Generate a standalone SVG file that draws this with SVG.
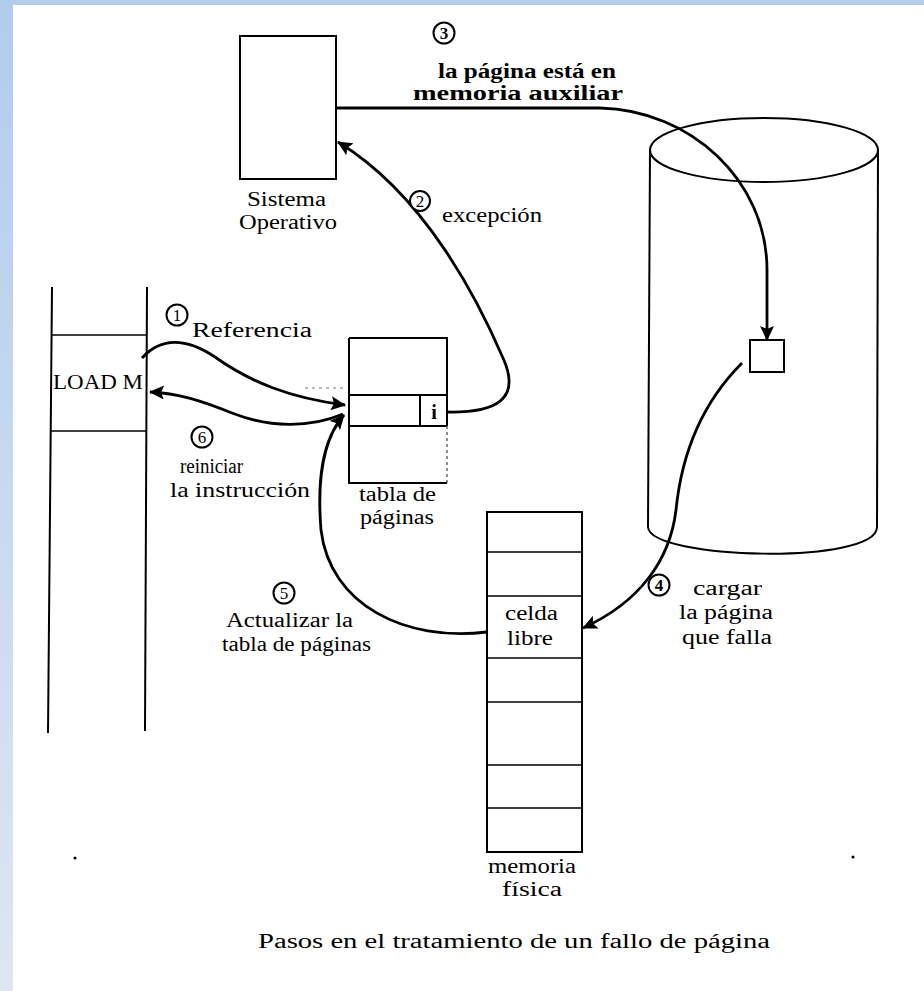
<svg xmlns="http://www.w3.org/2000/svg" width="924" height="991" viewBox="0 0 924 991">
<defs>
<linearGradient id="band" x1="0" y1="0" x2="0" y2="1">
<stop offset="0" stop-color="#b2cced"/>
<stop offset="1" stop-color="#dfe5f2"/>
</linearGradient>
<marker id="ah" markerUnits="userSpaceOnUse" markerWidth="16" markerHeight="14" refX="14" refY="7" orient="auto">
<path d="M0,0 L15,7 L0,14 L3,7 Z" fill="#000"/>
</marker>
<style>
.box{fill:#fff;stroke:#000;stroke-width:2}
.ln{fill:none;stroke:#000;stroke-width:2}
.thin{fill:none;stroke:#000;stroke-width:1.7}
.arr{fill:none;stroke:#000;stroke-width:2.8}
.t{font-family:"Liberation Serif","DejaVu Serif",serif;fill:#000;font-size:20px}
.c{fill:#fff;stroke:#000;stroke-width:2}
.n{font-family:"Liberation Serif","DejaVu Serif",serif;font-size:17px;fill:#000;text-anchor:middle}
</style>
</defs>
<rect x="0" y="0" width="924" height="991" fill="#fff"/>
<rect x="0" y="0" width="924" height="5" fill="#b2cced"/>
<rect x="0" y="0" width="13" height="991" fill="url(#band)"/>

<g id="proceso">
<path class="ln" d="M52,287 L48,733"/>
<path class="ln" d="M147,287 L145,731"/>
<path class="thin" d="M51,335 L147,335 M50,431 L146,431"/>
<text class="t" x="53" y="389" textLength="90" lengthAdjust="spacingAndGlyphs">LOAD M</text>
</g>

<g id="sistema-operativo">
<rect class="box" x="240" y="36" width="96" height="143"/>
<text class="t" x="247" y="206" textLength="79" lengthAdjust="spacingAndGlyphs">Sistema</text>
<text class="t" x="239" y="229" textLength="98" lengthAdjust="spacingAndGlyphs">Operativo</text>
</g>

<g id="tabla-paginas">
<path class="ln" d="M349,338 L447,338 L447,426 M349,338 L349,483 L447,483 M349,395 L447,395 M349,426 L447,426 M420,395 L420,426"/>
<path d="M447,426 L447,483" fill="none" stroke="#444" stroke-width="1.2" stroke-dasharray="3,3"/>
<path d="M305,388 L345,388" fill="none" stroke="#777" stroke-width="1" stroke-dasharray="3,4"/>
<text class="t" x="434" y="419" text-anchor="middle" font-weight="bold">i</text>
<text class="t" x="359" y="501" textLength="77" lengthAdjust="spacingAndGlyphs">tabla de</text>
<text class="t" x="360" y="524" textLength="74" lengthAdjust="spacingAndGlyphs">páginas</text>
</g>

<g id="memoria-auxiliar">
<path class="ln" d="M650,150 L648,527"/>
<path class="ln" d="M878,150 L877,527"/>
<ellipse class="ln" cx="764" cy="150" rx="114" ry="32"/>
<path class="ln" d="M648,527 C650,560 877,565 877,527"/>
<rect class="box" x="750" y="340" width="34" height="32" stroke-width="1.8"/>
</g>

<g id="memoria-fisica">
<rect class="box" x="487" y="512" width="95" height="340"/>
<path class="thin" d="M487,552 L582,552 M487,596 L582,596 M487,658 L582,658 M487,702 L582,702 M487,765 L582,765 M487,808 L582,808"/>
<text class="t" x="505" y="620" textLength="53" lengthAdjust="spacingAndGlyphs">celda</text>
<text class="t" x="507" y="645" textLength="46" lengthAdjust="spacingAndGlyphs">libre</text>
<text class="t" x="488" y="873" font-size="19" textLength="88" lengthAdjust="spacingAndGlyphs">memoria</text>
<text class="t" x="502" y="896" font-size="19" textLength="60" lengthAdjust="spacingAndGlyphs">física</text>
</g>

<g id="conectores">
<path class="arr" d="M337,108 L600,108 C690,110 767,180 767,270 L767,340" marker-end="url(#ah)"/>
<path class="arr" d="M447,412 C495,413 522,400 503,358 C478,300 425,195 338,142" marker-end="url(#ah)"/>
<path class="arr" d="M142,358 C160,338 185,337 215,357 C250,382 290,398 345,405" marker-end="url(#ah)"/>
<path class="arr" d="M343,414 C310,428 270,428 232,413 C202,401 178,393 150,392" marker-end="url(#ah)"/>
<path class="arr" d="M742,363 C705,400 682,450 676,510 C670,560 640,602 583,628" marker-end="url(#ah)"/>
<path class="arr" d="M487,632 C405,642 330,605 321,530 C317,480 322,440 344,415" marker-end="url(#ah)"/>
</g>

<g id="etiquetas">
<circle class="c" cx="444" cy="33" r="10.5"/><text class="n" x="444" y="39" font-weight="bold">3</text>
<text class="t" x="438" y="78" font-weight="bold" textLength="178" lengthAdjust="spacingAndGlyphs">la página está en</text>
<text class="t" x="413" y="100" font-weight="bold" textLength="210" lengthAdjust="spacingAndGlyphs">memoria auxiliar</text>
<circle class="c" cx="420" cy="201" r="10"/><text class="n" x="420" y="207">2</text>
<text class="t" x="442" y="222" font-size="21" textLength="100" lengthAdjust="spacingAndGlyphs">excepción</text>
<circle class="c" cx="177" cy="315" r="10.5"/><text class="n" x="177" y="321">1</text>
<text class="t" x="192" y="337" font-size="22" textLength="120" lengthAdjust="spacingAndGlyphs">Referencia</text>
<circle class="c" cx="202" cy="437" r="10.5"/><text class="n" x="202" y="443">6</text>
<text class="t" x="180" y="473" textLength="63" lengthAdjust="spacingAndGlyphs">reiniciar</text>
<text class="t" x="170" y="497" textLength="140" lengthAdjust="spacingAndGlyphs">la instrucción</text>
<circle class="c" cx="284" cy="593" r="10.5"/><text class="n" x="284" y="599">5</text>
<text class="t" x="226" y="627" textLength="127" lengthAdjust="spacingAndGlyphs">Actualizar la</text>
<text class="t" x="222" y="651" textLength="149" lengthAdjust="spacingAndGlyphs">tabla de páginas</text>
<circle class="c" cx="659" cy="585" r="10.5"/><text class="n" x="659" y="591" font-weight="bold">4</text>
<text class="t" x="693" y="595" textLength="69" lengthAdjust="spacingAndGlyphs">cargar</text>
<text class="t" x="679" y="619" textLength="94" lengthAdjust="spacingAndGlyphs">la página</text>
<text class="t" x="682" y="644" textLength="90" lengthAdjust="spacingAndGlyphs">que falla</text>
<text class="t" x="258" y="948" font-size="25" textLength="512" lengthAdjust="spacingAndGlyphs">Pasos en el tratamiento de un fallo de página</text>
</g>
<circle cx="75" cy="858" r="1.5" fill="#000"/>
<circle cx="853" cy="857" r="1.5" fill="#000"/>
</svg>
